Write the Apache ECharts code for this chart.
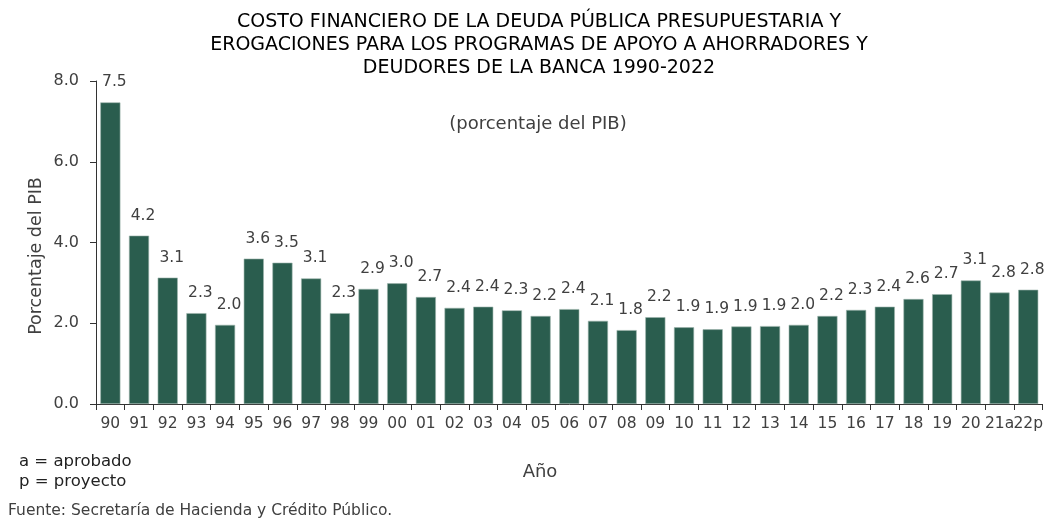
<!DOCTYPE html>
<html>
<head>
<meta charset="utf-8">
<script src="https://cdn.jsdelivr.net/npm/echarts@6/dist/echarts.min.js"></script>
<style>
  html, body { margin: 0; padding: 0; background: #fff; }
  #c1 { width: 1046px; height: 521px; }
</style>
</head>
<body>
<div id="c1"></div>
<script>
// años (eje x)
var anios = ["90", "91", "92", "93", "94", "95", "96", "97", "98", "99", "00", "01", "02", "03", "04", "05", "06", "07", "08", "09", "10", "11", "12", "13", "14", "15", "16", "17", "18", "19", "20", "21a", "22p"];
// costo financiero, % del PIB (altura de barras)
var costo = [7.47, 4.17, 3.13, 2.25, 1.96, 3.60, 3.50, 3.11, 2.25, 2.85, 2.99, 2.65, 2.38, 2.41, 2.32, 2.18, 2.35, 2.06, 1.83, 2.15, 1.90, 1.85, 1.92, 1.93, 1.96, 2.18, 2.33, 2.41, 2.60, 2.72, 3.06, 2.76, 2.83];
// etiquetas publicadas
var etiquetas = ["7.5", "4.2", "3.1", "2.3", "2.0", "3.6", "3.5", "3.1", "2.3", "2.9", "3.0", "2.7", "2.4", "2.4", "2.3", "2.2", "2.4", "2.1", "1.8", "2.2", "1.9", "1.9", "1.9", "1.9", "2.0", "2.2", "2.3", "2.4", "2.6", "2.7", "3.1", "2.8", "2.8"];
var ticksY = [0, 2, 4, 6, 8];

var font = "'DejaVu Sans', sans-serif";
var gris = "#404040";

var myChart = echarts.init(document.getElementById("c1"));
var option = {
  animation: false,
  title: [
    {
      text: "COSTO FINANCIERO DE LA DEUDA PÚBLICA PRESUPUESTARIA Y\nEROGACIONES PARA LOS PROGRAMAS DE APOYO A AHORRADORES Y\nDEUDORES DE LA BANCA 1990-2022",
      left: 534,
      top: 6,
      textAlign: "center",
      textStyle: {
        color: "#000",
        fontFamily: font,
        fontSize: 19,
        fontWeight: "normal",
        lineHeight: 23,
      },
    },
    {
      text: "(porcentaje del PIB)",
      left: 533,
      top: 110,
      textAlign: "center",
      textStyle: { color: gris, fontFamily: font, fontSize: 18, fontWeight: "normal" },
    },
  ],
  graphic: [
    { type: "text", left: 19, top: 453, style: { text: "a = aprobado", fill: "#222", font: "16.5px " + font } },
    { type: "text", left: 19, top: 473, style: { text: "p = proyecto", fill: "#222", font: "16.5px " + font } },
    { type: "text", left: 8, top: 503, style: { text: "Fuente: Secretaría de Hacienda y Crédito Público.", fill: gris, font: "15.5px " + font } },
    { type: "text", x: 540, y: 472, style: { text: "Año", fill: gris, font: "18px " + font, align: "center", verticalAlign: "middle" } },
    { type: "text", x: 36, y: 256, rotation: Math.PI / 2, style: { text: "Porcentaje del PIB", fill: gris, font: "17.5px " + font, align: "center", verticalAlign: "middle" } },
  ],
  grid: { left: 96, right: 3, top: 81, bottom: 117, containLabel: false },
  xAxis: {
    type: "category",
    data: anios,
    axisLine: { lineStyle: { color: "#333", width: 1 } },
    axisTick: { show: true, length: 6, lineStyle: { color: "#333" } },
    axisLabel: { color: gris, fontFamily: font, fontSize: 15.5, margin: 12, interval: 0 },
  },
  yAxis: {
    type: "value",
    min: ticksY[0],
    max: ticksY[ticksY.length - 1],
    interval: 2,
    axisLine: { show: true, lineStyle: { color: "#333", width: 1 } },
    axisTick: { show: true, length: 6, lineStyle: { color: "#333" } },
    splitLine: { show: false },
    axisLabel: {
      color: gris,
      fontFamily: font,
      fontSize: 16,
      margin: 17,
      formatter: function (v) {
        return v.toFixed(1);
      },
    },
  },
  series: [
    {
      type: "bar",
      data: costo,
      barCategoryGap: "30%",
      itemStyle: { color: "#2a5d4e", borderColor: "#9db5ac", borderWidth: 0.6 },
      label: {
        show: true,
        position: "top",
        distance: 12,
        offset: [4, 0],
        color: gris,
        fontFamily: font,
        fontSize: 15.5,
        formatter: function (p) {
          return etiquetas[p.dataIndex];
        },
      },
    },
  ],
};
myChart.setOption(option);
</script>
</body>
</html>
